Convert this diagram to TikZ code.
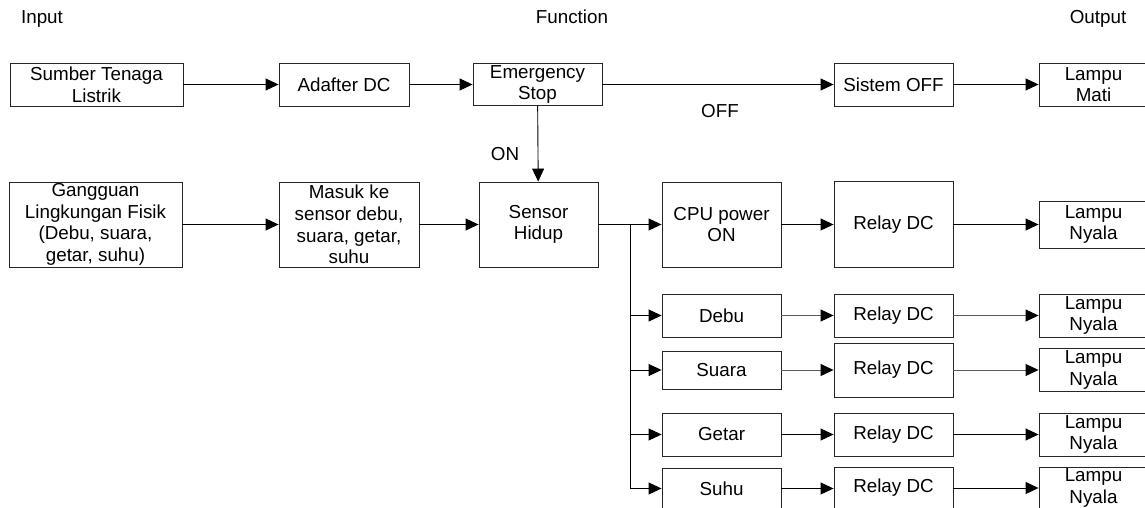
\documentclass[tikz,border=0pt]{standalone}
\usepackage{fontspec}
\setmainfont{Liberation Sans}
\usetikzlibrary{arrows.meta}
\begin{document}
\begin{tikzpicture}[x=1pt,y=-1pt,
  font=\fontsize{18.8}{21.7}\selectfont,
  box/.style={draw=black!85, line width=0.9pt, inner sep=0pt, align=center},
  arr/.style={-{Triangle[length=13pt,width=12pt,color=black]}, line width=0.9pt, draw=black},
  garr/.style={arr, draw=black!65},
  lbl/.style={inner sep=0pt},
  head/.style={inner sep=0pt, anchor=base}]
\clip (0,0) rectangle (1145,508);
\fill[white] (0,0) rectangle (1145,508);

% column headings
\node[head] (hin)  at (42,24)   {Input};
\node[head] (hfn)  at (572,24)  {Function};
\node[head] (hout) at (1098,24) {Output};

% power path
\node[box, minimum width=173pt, minimum height=43pt] (sumber) at (96.5,84.5) {Sumber Tenaga\\Listrik};
\node[box, minimum width=130pt, minimum height=43pt] (adafter) at (344,84.5) {Adafter DC};
\node[box, minimum width=129pt, minimum height=42pt] (estop) at (537.5,84.5) {Emergency\\Stop};
\node[box, minimum width=119pt, minimum height=43pt] (sisoff) at (893.5,84.5) {Sistem OFF};
\node[box, minimum width=109pt, minimum height=43pt] (lmati) at (1093.5,84.5) {Lampu\\Mati};

% sensing path
\node[box, minimum width=173pt, minimum height=85pt] (gangguan) at (95.5,224.5) {Gangguan\\Lingkungan Fisik\\(Debu, suara,\\getar, suhu)};
\node[box, minimum width=140pt, minimum height=85pt] (masuk) at (349,224.5) {Masuk ke\\sensor debu,\\suara, getar,\\suhu};
\node[box, minimum width=119pt, minimum height=85pt] (sensor) at (538.5,224.5) {Sensor\\Hidup};
\node[box, minimum width=119pt, minimum height=85pt] (cpu) at (721.5,224.5) {CPU power\\ON};
\node[box, minimum width=119pt, minimum height=86pt] (relay0) at (893.5,224.5) {Relay DC};
\node[box, minimum width=109pt, minimum height=47pt] (lampu0) at (1093.5,224.5) {Lampu\\Nyala};

% individual sensor channels
\node[box, minimum width=119pt, minimum height=43pt] (debu) at (721.5,315.5) {Debu};
\node[box, minimum width=119pt, minimum height=43pt] (relay1) at (893.5,315.5) {Relay DC};
\node[box, minimum width=109pt, minimum height=43pt] (lampu1) at (1093.5,315.5) {Lampu\\Nyala};

\node[box, minimum width=119pt, minimum height=38pt] (suara) at (721.5,370) {Suara};
\node[box, minimum width=119pt, minimum height=54pt] (relay2) at (893.5,370) {Relay DC};
\node[box, minimum width=109pt, minimum height=43pt] (lampu2) at (1093.5,370) {Lampu\\Nyala};

\node[box, minimum width=119pt, minimum height=43pt] (getar) at (721.5,434.5) {Getar};
\node[box, minimum width=119pt, minimum height=43pt] (relay3) at (893.5,434.5) {Relay DC};
\node[box, minimum width=109pt, minimum height=43pt] (lampu3) at (1093.5,434.5) {Lampu\\Nyala};

\node[box, minimum width=119pt, minimum height=40pt] (suhu) at (721.5,488.5) {Suhu};
\node[box, minimum width=119pt, minimum height=42pt] (relay4) at (893.5,488) {Relay DC};
\node[box, minimum width=109pt, minimum height=42pt] (lampu4) at (1093.5,488) {Lampu\\Nyala};

% connectors: power path
\draw[arr] (sumber) -- (adafter);
\draw[arr] (adafter) -- (estop);
\draw[arr] (estop) -- (sisoff);
\draw[arr] (sisoff) -- (lmati);
\draw[arr] (estop) -- (sensor);
\node[lbl] (off) at (720,111) {OFF};
\node[lbl] (on)  at (505,154) {ON};

% connectors: sensing path
\draw[arr] (gangguan) -- (masuk);
\draw[arr] (masuk) -- (sensor);
\draw[arr] (sensor) -- (cpu);
\draw[arr] (cpu) -- (relay0);
\draw[arr] (relay0.east) -- (lampu0.west);

% branch to the sensor channels
\coordinate (split) at (630,224.5);
\draw[arr] (split) |- (debu.west);
\draw[arr] (split) |- (suara.west);
\draw[arr] (split) |- (getar.west);
\draw[arr] (split) |- (suhu.west);

\draw[garr] (debu) -- (relay1);
\draw[garr] (relay1) -- (lampu1);
\draw[garr] (suara) -- (relay2);
\draw[garr] (relay2.east) -- (lampu2.west);
\draw[arr] (getar) -- (relay3);
\draw[arr] (relay3) -- (lampu3);
\draw[arr] (suhu.east) -- (relay4.west |- suhu.east);
\draw[arr] (relay4) -- (lampu4);
\end{tikzpicture}
\end{document}
